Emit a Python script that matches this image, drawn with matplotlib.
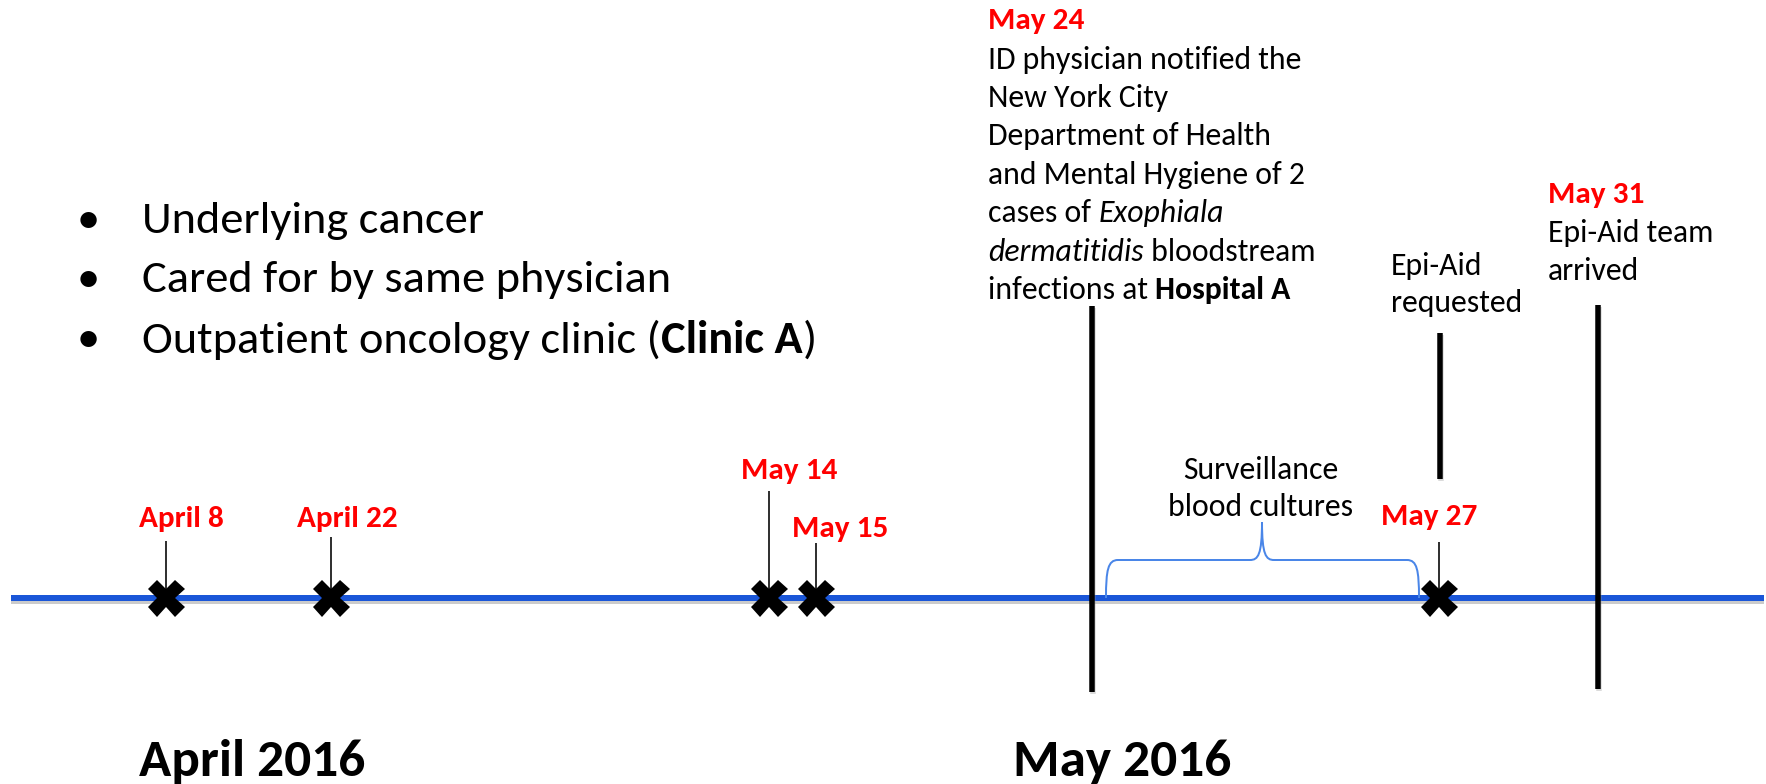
import matplotlib
matplotlib.use('Agg')
import matplotlib.pyplot as plt
from matplotlib import font_manager
from matplotlib.path import Path
from matplotlib.patches import PathPatch
import matplotlib.patheffects as pe

# ---------------- data ----------------
bullet_items = ['Underlying cancer', 'Cared for by same physician', 'Outpatient oncology clinic (Clinic A)']

# case dates (positions along the slide's non-proportional timeline)
case_labels = ['April 8', 'April 22', 'May 14', 'May 15', 'May 27']
case_pos = [166, 331, 769, 816, 1439]

# milestones
milestone_dates = ['May 24', '', 'May 31']
milestone_pos = [1092, 1440, 1598]
milestone_texts = [
    'ID physician notified the\nNew York City\nDepartment of Health\nand Mental Hygiene of 2\n'
    'cases of Exophiala\ndermatitidis bloodstream\ninfections at Hospital A',
    'Epi-Aid\nrequested',
    'Epi-Aid team\narrived',
]
surveillance_label = 'Surveillance\nblood cultures'
month_labels = ['April 2016', 'May 2016']

# ---------------- setup ----------------
W, H, DPI = 1766, 784, 100
avail = {f.name for f in font_manager.fontManager.ttflist}
FAMILY = next((f for f in ['Carlito', 'Lato', 'Open Sans', 'DejaVu Sans'] if f in avail), 'DejaVu Sans')
plt.rcParams['font.family'] = [FAMILY, 'DejaVu Sans']

fig = plt.figure(figsize=(W / DPI, H / DPI), dpi=DPI)
ax = fig.add_axes([0, 0, 1, 1])
ax.set_xlim(0, W)
ax.set_ylim(H, 0)
ax.axis('off')
renderer = fig.canvas.get_renderer()

RED = '#ff0000'
BLUE = '#1a56d8'
BRACE = '#4a86e8'
PX = 72.0 / DPI


def measure(s, **kw):
    t = ax.text(0, 0, s, **kw)
    w = t.get_window_extent(renderer).width
    t.remove()
    return w


def adv(s, **kw):
    return measure(s + '|', **kw) - measure('|', **kw)


def fit(s, target, **kw):
    return 20 * target / measure(s, fontsize=20, **kw)


FS_BULLET = fit('Underlying cancer', 342)
FS_BODY = fit('ID physician notified the', 313)
FS_LABEL = fit('April 22', 101, weight='bold')
FS_MONTH = fit('April 2016', 226, weight='bold')


def runs_text(x, y, runs, fs, color='black'):
    for s, w, st in runs:
        ax.text(x, y, s, fontsize=fs, weight=w, style=st, color=color,
                ha='left', va='center_baseline')
        x += adv(s, fontsize=fs, weight=w, style=st)


# ---------------- timeline ----------------
ax.plot([11, 1764], [598, 598], color=BLUE, lw=6 * PX, solid_capstyle='butt', zorder=2,
        path_effects=[pe.SimpleLineShadow(offset=(0, -2.5), shadow_color='0.55', alpha=0.45),
                      pe.Normal()])

# thin stems, crosses and red labels
stem_tops = [541, 537, 491, 543, 542]
label_x = [181, 347.5, 789.5, 840, 1429]
label_y = [517, 517, 468, 526, 515]
ax.vlines(case_pos, stem_tops, 598, color='black', lw=1.6 * PX, zorder=3)
ax.plot(case_pos, [598] * len(case_pos), ls='none', marker='X', ms=37 * PX,
        color='black', mec='black', mew=0, zorder=5)
for lx, ly, lab in zip(label_x, label_y, case_labels):
    ax.text(lx, ly, lab, fontsize=FS_LABEL, weight='bold', color=RED,
            ha='center', va='center_baseline')

# thick milestone lines
ms_top = [306, 333, 305]
ms_bot = [692, 479, 689]
for x, t, b in zip(milestone_pos, ms_top, ms_bot):
    ax.plot([x, x], [t, b], color='black', lw=5.5 * PX, solid_capstyle='butt', zorder=4,
            path_effects=[pe.SimpleLineShadow(offset=(1, -1.5), shadow_color='0.6', alpha=0.35),
                          pe.Normal()])

# milestone texts
LS = 38.4
# May 24 block
ax.text(988, 18, milestone_dates[0], fontsize=FS_LABEL, weight='bold', color=RED,
        ha='left', va='center_baseline')
lines24 = milestone_texts[0].split('\n')
for i, line in enumerate(lines24):
    y = 57 + i * LS
    if line.startswith('cases of '):
        runs_text(988, y, [('cases of ', 'normal', 'normal'), ('Exophiala', 'normal', 'italic')], FS_BODY)
    elif line.startswith('dermatitidis'):
        runs_text(988, y, [('dermatitidis', 'normal', 'italic'), (' bloodstream', 'normal', 'normal')], FS_BODY)
    elif line.endswith('Hospital A'):
        runs_text(988, y, [('infections at ', 'normal', 'normal'), ('Hospital A', 'bold', 'normal')], FS_BODY)
    else:
        runs_text(988, y, [(line, 'normal', 'normal')], FS_BODY)

# Epi-Aid requested
for i, line in enumerate(milestone_texts[1].split('\n')):
    ax.text(1391, 263 + i * 37.5, line, fontsize=FS_BODY, ha='left', va='center_baseline')

# May 31
ax.text(1548, 192, milestone_dates[2], fontsize=FS_LABEL, weight='bold', color=RED,
        ha='left', va='center_baseline')
for i, line in enumerate(milestone_texts[2].split('\n')):
    ax.text(1548, 230 + i * 38, line, fontsize=FS_BODY, ha='left', va='center_baseline')

# surveillance brace
verts = [(1106, 598), (1106, 570), (1108, 560), (1118, 560),
         (1250, 560),
         (1258, 560), (1262, 555), (1262, 522),
         (1262, 555), (1266, 560), (1274, 560),
         (1407, 560),
         (1417, 560), (1419, 570), (1419, 598)]
codes = [Path.MOVETO, Path.CURVE4, Path.CURVE4, Path.CURVE4,
         Path.LINETO,
         Path.CURVE4, Path.CURVE4, Path.CURVE4,
         Path.CURVE4, Path.CURVE4, Path.CURVE4,
         Path.LINETO,
         Path.CURVE4, Path.CURVE4, Path.CURVE4]
ax.add_patch(PathPatch(Path(verts, codes), fill=False, edgecolor=BRACE, lw=2 * PX, zorder=3))
for i, line in enumerate(surveillance_label.split('\n')):
    ax.text(1261, 467 + i * 38, line, fontsize=FS_BODY, ha='center', va='center_baseline')

# bullets
bullet_y = [217, 276, 336]
for y, item in zip(bullet_y, bullet_items):
    ax.text(88, y, '\u2022', fontsize=FS_BULLET, ha='center', va='center_baseline')
    if '(Clinic A)' in item:
        runs_text(142, y, [('Outpatient oncology clinic (', 'normal', 'normal'),
                           ('Clinic A', 'bold', 'normal'), (')', 'normal', 'normal')], FS_BULLET)
    else:
        runs_text(142, y, [(item, 'normal', 'normal')], FS_BULLET)

# month labels
for x, lab in zip([139, 1013], month_labels):
    ax.text(x, 757, lab, fontsize=FS_MONTH, weight='bold', ha='left', va='center_baseline')

fig.savefig('out.png', dpi=DPI)
